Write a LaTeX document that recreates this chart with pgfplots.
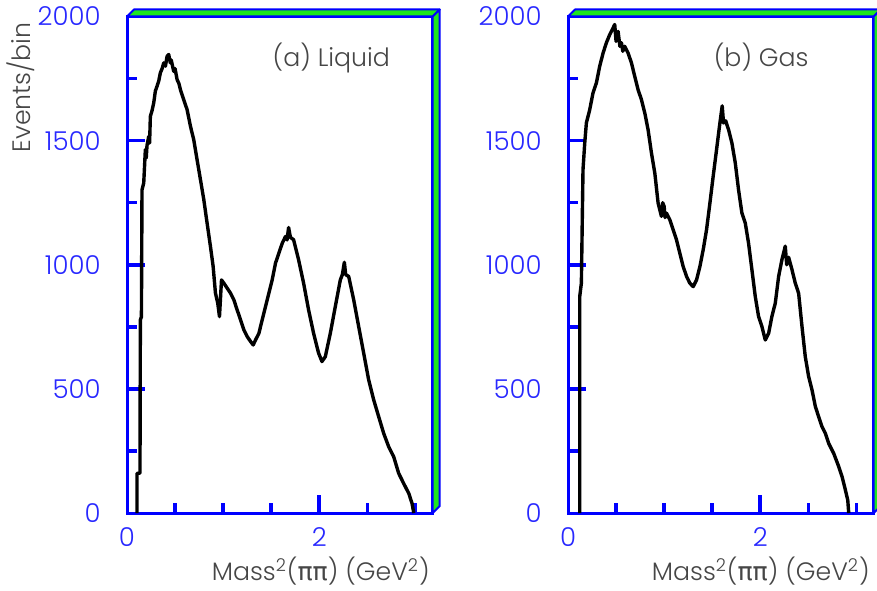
\documentclass[border=0pt]{standalone}
\usepackage{fontspec}
\IfFontExistsTF{Poppins Light}{\setmainfont{Poppins Light}}{\setmainfont{Poppins}}
\newfontfamily\grk{DejaVu Sans}
\usepackage{pgfplots}
\pgfplotsset{compat=1.18}
\definecolor{pawblue}{RGB}{0,0,255}
\definecolor{labblue}{RGB}{40,40,255}
\definecolor{pawgreen}{RGB}{30,230,30}
\definecolor{txtgray}{RGB}{70,70,70}
\newcommand{\lab}{\fontsize{12.6}{15}\selectfont}
\pgfplotsset{pawstyle/.style={
  scale only axis, width=152.85pt, height=248.25pt,
  xmin=0, xmax=3.18, ymin=0, ymax=2000,
  axis line style={pawblue, line width=1.5pt},
  tick align=inside, tick pos=left,
  major tick length=0pt, minor tick length=0pt,
  xtick={0,2}, ytick={0,500,1000,1500,2000},
  scaled ticks=false,
  /pgf/number format/assume math mode=true,
  /pgf/number format/1000 sep={},
  ticklabel style={font=\fontsize{13}{15}\selectfont, text=labblue},
  yticklabel style={anchor=east, inner sep=0pt, xshift=-13pt},
  xticklabel style={anchor=north, inner sep=0pt, yshift=-7pt},
  clip=false,
}}
\newcommand{\pawticks}{%
  \pgfplotsinvokeforeach{500,1000,1500,2000}{\draw[pawblue, line width=1.8pt] (axis cs:0,##1) -- ++(9pt,0);}
  \pgfplotsinvokeforeach{250,750,1250,1750}{\draw[pawblue, line width=1.8pt] (axis cs:0,##1) -- ++(4.8pt,0);}
  \draw[pawblue, line width=1.8pt] (axis cs:2,0) -- ++(0,9pt);
  \pgfplotsinvokeforeach{0.5,1,1.5,2.5,3}{\draw[pawblue, line width=1.8pt] (axis cs:##1,0) -- ++(0,4.8pt);}
}
\newcommand{\threed}{%
  \path (rel axis cs:1,1) coordinate (tr) (rel axis cs:0,1) coordinate (tl) (rel axis cs:1,0) coordinate (br);
  \filldraw[fill=pawgreen, draw=pawblue, line width=1pt, line join=round] (tl) -- ([shift={(3.5pt,3.5pt)}]tl) -- ([shift={(3.5pt,3.5pt)}]tr) -- (tr) -- cycle;
  \filldraw[fill=pawgreen, draw=pawblue, line width=1pt, line join=round] (br) -- ([shift={(3.5pt,3.5pt)}]br) -- ([shift={(3.5pt,3.5pt)}]tr) -- (tr) -- cycle;
}
\begin{document}
\begin{tikzpicture}
\begin{axis}[pawstyle, at={(63.5pt,38.5pt)}, anchor=south west]
\pawticks
\addplot[black, line width=1.7pt, line join=round] coordinates {
(0.104,0) (0.104,160) (0.135,160) (0.139,778) (0.15,790) (0.156,1302) (0.174,1329) (0.191,1464) (0.2,1430) (0.208,1480) (0.226,1517) (0.235,1490) (0.243,1598) (0.26,1620) (0.278,1652) (0.295,1700) (0.3125,1719) (0.33,1740) (0.347,1773) (0.365,1790) (0.382,1813) (0.4,1800) (0.417,1840) (0.434,1847) (0.451,1813) (0.46,1825) (0.486,1779) (0.5,1790) (0.521,1746) (0.54,1730) (0.556,1705) (0.590,1665) (0.625,1625) (0.66,1558) (0.694,1504) (0.729,1423) (0.764,1343) (0.799,1262) (0.833,1168) (0.868,1074) (0.896,993) (0.92,886) (0.944,845) (0.962,791) (0.983,939) (1.007,926) (1.042,906) (1.076,886) (1.111,859) (1.146,818) (1.181,778) (1.215,738) (1.25,711) (1.285,691) (1.3125,677) (1.337,697) (1.372,724) (1.406,778) (1.441,832) (1.476,886) (1.51,939) (1.545,1007) (1.58,1047) (1.615,1087) (1.649,1114) (1.665,1100) (1.681,1150) (1.7,1110) (1.733,1101) (1.785,1020) (1.837,926) (1.889,818) (1.941,724) (1.993,644) (2.028,610) (2.063,630) (2.115,724) (2.167,832) (2.219,939) (2.24,960) (2.261,1010) (2.275,960) (2.306,953) (2.358,859) (2.41,751) (2.462,644) (2.514,536) (2.566,456) (2.618,388) (2.67,321) (2.722,267) (2.774,227) (2.826,160) (2.878,119) (2.931,79) (2.965,39) (2.983,0)
};
\node[anchor=base, text=txtgray, font=\lab] at (axis cs:2.125,1798) {(a) Liquid};
\threed
\end{axis}
\begin{axis}[pawstyle, at={(284pt,38.5pt)}, anchor=south west]
\pawticks
\addplot[black, line width=1.7pt, line join=round] coordinates {
(0.122,0) (0.122,872) (0.139,926) (0.156,1383) (0.174,1490) (0.191,1571) (0.226,1625) (0.26,1692) (0.295,1732) (0.33,1800) (0.365,1853) (0.399,1894) (0.434,1927) (0.469,1954) (0.486,1968) (0.5,1900) (0.521,1940) (0.54,1880) (0.556,1894) (0.57,1860) (0.59,1880) (0.625,1853) (0.66,1813) (0.694,1759) (0.729,1705) (0.764,1665) (0.799,1611) (0.833,1544) (0.868,1450) (0.903,1369) (0.9375,1248) (0.972,1195) (0.985,1250) (1.0,1235) (1.01,1190) (1.024,1208) (1.059,1181) (1.094,1141) (1.128,1101) (1.163,1047) (1.198,993) (1.233,953) (1.267,926) (1.302,912) (1.337,939) (1.372,993) (1.406,1060) (1.441,1141) (1.476,1248) (1.51,1356) (1.545,1463) (1.58,1571) (1.604,1640) (1.618,1571) (1.64,1580) (1.67,1544) (1.705,1490) (1.74,1410) (1.774,1302) (1.809,1208) (1.844,1168) (1.878,1087) (1.913,980) (1.948,872) (1.982,792) (2.017,751) (2.052,697) (2.087,724) (2.121,792) (2.156,845) (2.191,953) (2.225,1020) (2.26,1075) (2.275,1000) (2.295,1030) (2.33,980) (2.364,926) (2.399,885) (2.434,751) (2.468,630) (2.503,550) (2.538,496) (2.573,429) (2.607,388) (2.642,348) (2.677,321) (2.711,281) (2.764,240) (2.816,187) (2.851,146) (2.885,93) (2.91,52) (2.92,0)
};
\node[anchor=base, text=txtgray, font=\lab] at (axis cs:2.01,1798) {(b) Gas};
\threed
\end{axis}
\node[rotate=90, anchor=base, text=txtgray, font=\lab, inner sep=0pt] at (15pt,251.25pt) {Events/bin};
\node[anchor=base east, text=txtgray, font=\lab, inner sep=0pt] at (215pt,5pt) {Mass\textsuperscript{2}({\grk ππ}) (GeV\textsuperscript{2})};
\node[anchor=base east, text=txtgray, font=\lab, inner sep=0pt] at (435pt,5pt) {Mass\textsuperscript{2}({\grk ππ}) (GeV\textsuperscript{2})};
\pgfresetboundingbox
\useasboundingbox (0,0) rectangle (438.5pt,295pt);
\end{tikzpicture}
\end{document}
